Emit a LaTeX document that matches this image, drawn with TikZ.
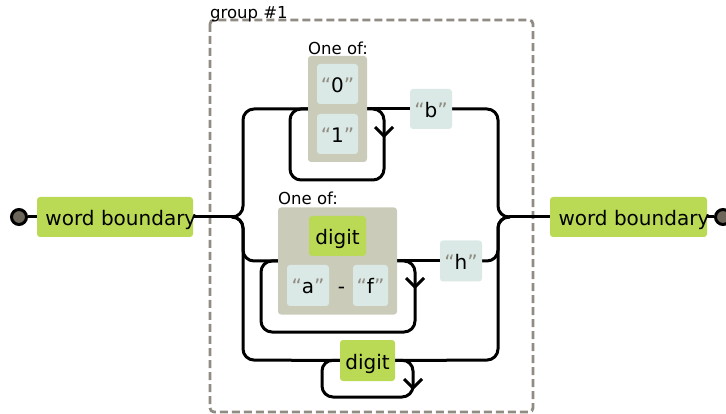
\documentclass[tikz,border=0pt]{standalone}
\usepackage{fontspec}
\setmainfont{DejaVu Sans}
\definecolor{rxgreen}{HTML}{BADA55}
\definecolor{rxlit}{HTML}{DAE9E5}
\definecolor{rxset}{HTML}{CBCBBA}
\definecolor{rxgray}{HTML}{908C83}
\definecolor{rxdot}{HTML}{6B6659}
\newcommand\qlit[1]{{\color{rxgray}“}#1{\color{rxgray}”}}
\newcommand\wbtext[1]{\makebox[#1][l]{\hspace*{8.5pt}word boundary}}
\pgfdeclarelayer{bglayer}
\pgfsetlayers{bglayer,main}
\tikzset{
  boxbase/.style={rounded corners=3pt, inner sep=0pt, text height=17pt, text depth=0pt,
    font=\fontsize{20}{21}\selectfont},
  greenbox/.style={boxbase, fill=rxgreen},
  litbox/.style={boxbase, fill=rxlit},
  setbox/.style={fill=rxset, rounded corners=3pt, inner sep=0pt},
  lbl/.style={font=\fontsize{16.5}{17}\selectfont, inner sep=0pt, anchor=base west},
  wire/.style={line width=3pt, rounded corners=11pt},
  chev/.style={line width=3pt},
  endpt/.style={circle, draw, fill=rxdot, line width=3pt, minimum size=15pt, inner sep=0pt},
  grpbox/.style={draw=rxgray, line width=2.8pt, dash pattern=on 8pt off 4pt, rounded corners=4pt}
}
\begin{document}
\begin{tikzpicture}[x=1pt,y=-1pt]
\useasboundingbox (0,0) rectangle (726,414);
% terminals
\node[endpt] (startC) at (19,217) {};
\node[greenbox, minimum height=40pt] (wbL) at (115,217) {\wbtext{156pt}};
\node[greenbox, minimum height=40pt] (wbR) at (628.5,217) {\wbtext{157pt}};
\node[endpt] (endC) at (723,217) {};
\coordinate (jL) at (233,217);
\coordinate (jR) at (510,217);
% branch 1
\node[setbox, minimum width=59pt, minimum height=106pt] (set1) at (337.5,109) {};
\node[lbl] (of1) at (308,55) {One of:};
\node[litbox, minimum width=41pt, minimum height=40pt] (lit0) at (337.5,84) {\qlit{0}};
\node[litbox, minimum width=41pt, minimum height=40pt] (lit1) at (337.5,134) {\qlit{1}};
\node[litbox, minimum width=42pt, minimum height=40pt] (litb) at (431,109) {\qlit{b}};
% branch 2
\node[setbox, minimum width=119pt, minimum height=107pt] (set2) at (337.5,261) {};
\node[lbl] (of2) at (278,205) {One of:};
\node[greenbox, minimum width=57pt, minimum height=40pt] (dig2) at (337.5,236) {digit};
\node[litbox, minimum width=42pt, minimum height=41pt] (lita) at (308,285.5) {\qlit{a}};
\node[boxbase] (dash) at (341.5,285.5) {-};
\node[litbox, minimum width=35pt, minimum height=41pt] (litf) at (370.5,285.5) {\qlit{f}};
\node[litbox, minimum width=42pt, minimum height=41pt] (lith) at (461,261) {\qlit{h}};
% branch 3
\node[greenbox, minimum width=55pt, minimum height=41pt] (dig3) at (367.5,360.5) {digit};
\begin{pgfonlayer}{bglayer}
% group
\draw[grpbox] (210,20) rectangle (533,412);
% main wires
\draw[wire] (startC) -- (wbL);
\draw[wire] (wbL.east) -- (jL);
\draw[wire] (jR) -- (wbR.west);
\draw[wire] (wbR.east) -- (endC);
% branch 1 wires
\draw[wire] (jL) -- (243,217) -- (243,109) -- (set1.west);
\draw[wire] (set1.east) -- (litb.west);
\draw[wire] (litb.east) -- (498,109) -- (498,217) -- (jR);
\draw[wire] (set1.west) -- (290,109) -- (290,180) -- (384,180) -- (384,109) -- (set1.east);
\coordinate (ar1) at (384,136);
\draw[chev] (ar1) ++(-9,-9) -- (ar1) -- ++(9,-9);
% branch 2 wires
\draw[wire] (jL) -- (243,217) -- (243,261) -- (set2.west);
\draw[wire] (set2.east) -- (lith.west);
\draw[wire] (lith.east) -- (498,261) -- (498,217) -- (jR);
\draw[wire] (set2.west) -- (261,261) -- (261,332) -- (415,332) -- (415,261) -- (set2.east);
\coordinate (ar2) at (415,287);
\draw[chev] (ar2) ++(-9,-9) -- (ar2) -- ++(9,-9);
% branch 3 wires
\draw[wire] (jL) -- (243,217) -- (243,360) -- (dig3.west);
\draw[wire] (dig3.east) -- (498,360) -- (498,217) -- (jR);
\draw[wire] (dig3.west) -- (322,360) -- (322,397) -- (413,397) -- (413,360) -- (dig3.east);
\coordinate (ar3) at (413,388);
\draw[chev] (ar3) ++(-9,-9) -- (ar3) -- ++(9,-9);
\end{pgfonlayer}
\node[lbl] (glbl) at (210,19) {group \#1};
\end{tikzpicture}
\end{document}
